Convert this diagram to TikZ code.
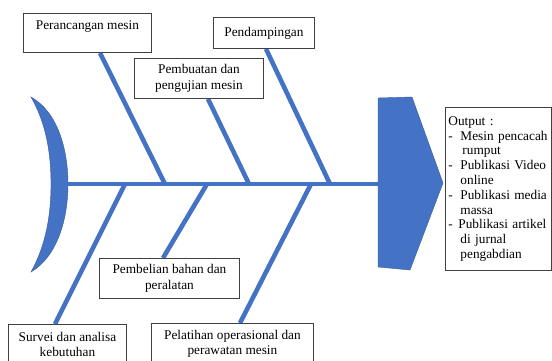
\documentclass[tikz,border=0pt]{standalone}
\usepackage{fontspec}
\setmainfont{Liberation Serif}
\usetikzlibrary{calc}
\definecolor{fishblue}{HTML}{4472C4}
\definecolor{boxline}{HTML}{404040}
\tikzset{
  txtbox/.style={draw=boxline, line width=0.9pt, fill=white, inner sep=0pt, align=center,
    font=\fontsize{13.3}{15.8}\selectfont, anchor=north west},
  bone/.style={draw=fishblue, line width=4.6pt},
  fishpart/.style={fill=fishblue, draw=fishblue!80!black, line width=0.4pt}
}
\begin{document}
\begin{tikzpicture}[x=1pt,y=-1pt]
\useasboundingbox (0,0) rectangle (552,360);
\clip (0,0) rectangle (552,360);
% spine points
\coordinate (tailend) at (66,184);
\coordinate (headstart) at (380,184);
\coordinate (s1) at (165,184);
\coordinate (s2) at (330,184);
\coordinate (s3) at (249,184);
\coordinate (s4) at (125,184);
\coordinate (s5) at (207,184);
\coordinate (s6) at (311,184);
% boxes
\node[txtbox, minimum width=128, minimum height=39] (b1) at (23,13) {Perancangan mesin\\[0pt]~};
\node[txtbox, minimum width=101, minimum height=31] (b2) at (213,17) {Pendampingan};
\node[txtbox, minimum width=129, minimum height=40] (b3) at (134,58) {Pembuatan dan\\pengujian mesin};
\node[txtbox, minimum width=140, minimum height=40] (b4) at (99,258) {Pembelian bahan dan\\peralatan};
\node[txtbox, minimum width=118, minimum height=40, font=\fontsize{13.3}{15.2}\selectfont] (b5) at (8,324) {Survei dan analisa\\kebutuhan};
\node[txtbox, minimum width=162, minimum height=40, font=\fontsize{13.3}{15.2}\selectfont] (b6) at (151,323) {Pelatihan operasional dan\\perawatan mesin};
% spine
\draw[bone] (tailend) -- (headstart);
% bones
\draw[bone] ($(b1.south west)+(77,0)$) -- (s1);
\draw[bone] ($(b2.south west)+(53,0)$) -- (s2);
\draw[bone] ($(b3.south west)+(74,0)$) -- (s3);
\draw[bone] ($(b5.north west)+(47,0)$) -- (s4);
\draw[bone] ($(b4.north west)+(64,0)$) -- (s5);
\draw[bone] ($(b6.north west)+(89,0)$) -- (s6);
% redraw box outlines on top of the bone ends
\foreach \b in {b1,b2,b3,b4} {\draw[boxline, line width=0.9pt] (\b.north west) rectangle (\b.south east);}
\draw[boxline, line width=0.9pt] ($(b5.north west)+(0,6)$) |- (b5.north east) -- +(0,40);
\draw[boxline, line width=0.9pt] ($(b6.north west)+(0,6)$) |- (b6.north east) -- +(0,40);
% tail
\path[fishpart] (31,97) .. controls (58,112) and (68,150) .. (68,184)
  .. controls (68,218) and (58,256) .. (31,272)
  .. controls (46,245) and (51,215) .. (51,184)
  .. controls (51,153) and (46,123) .. cycle;
% head
\path[fishpart] (378,98) -- (412,97) -- (443,183) -- (410,270) -- (378,267) -- cycle;
% output box
\node[draw=boxline, line width=0.9pt, fill=white, anchor=north west, inner xsep=3pt, inner ysep=0pt,
  text width=100pt, minimum height=163, align=left, font=\fontsize{13.3}{14.8}\selectfont] (out) at (445,107)
  {Output :\\
   \makebox[12pt][l]{-}Mesin pencacah\\
   \hspace*{14pt}rumput\\
   \makebox[12pt][l]{-}Publikasi Video\\
   \hspace*{12pt}online\\
   \makebox[12pt][l]{-}Publikasi media\\
   \hspace*{12pt}massa\\
   \makebox[10pt][l]{-}Publikasi artikel\\
   \hspace*{12pt}di jurnal\\
   \hspace*{12pt}pengabdian};
\end{tikzpicture}
\end{document}
